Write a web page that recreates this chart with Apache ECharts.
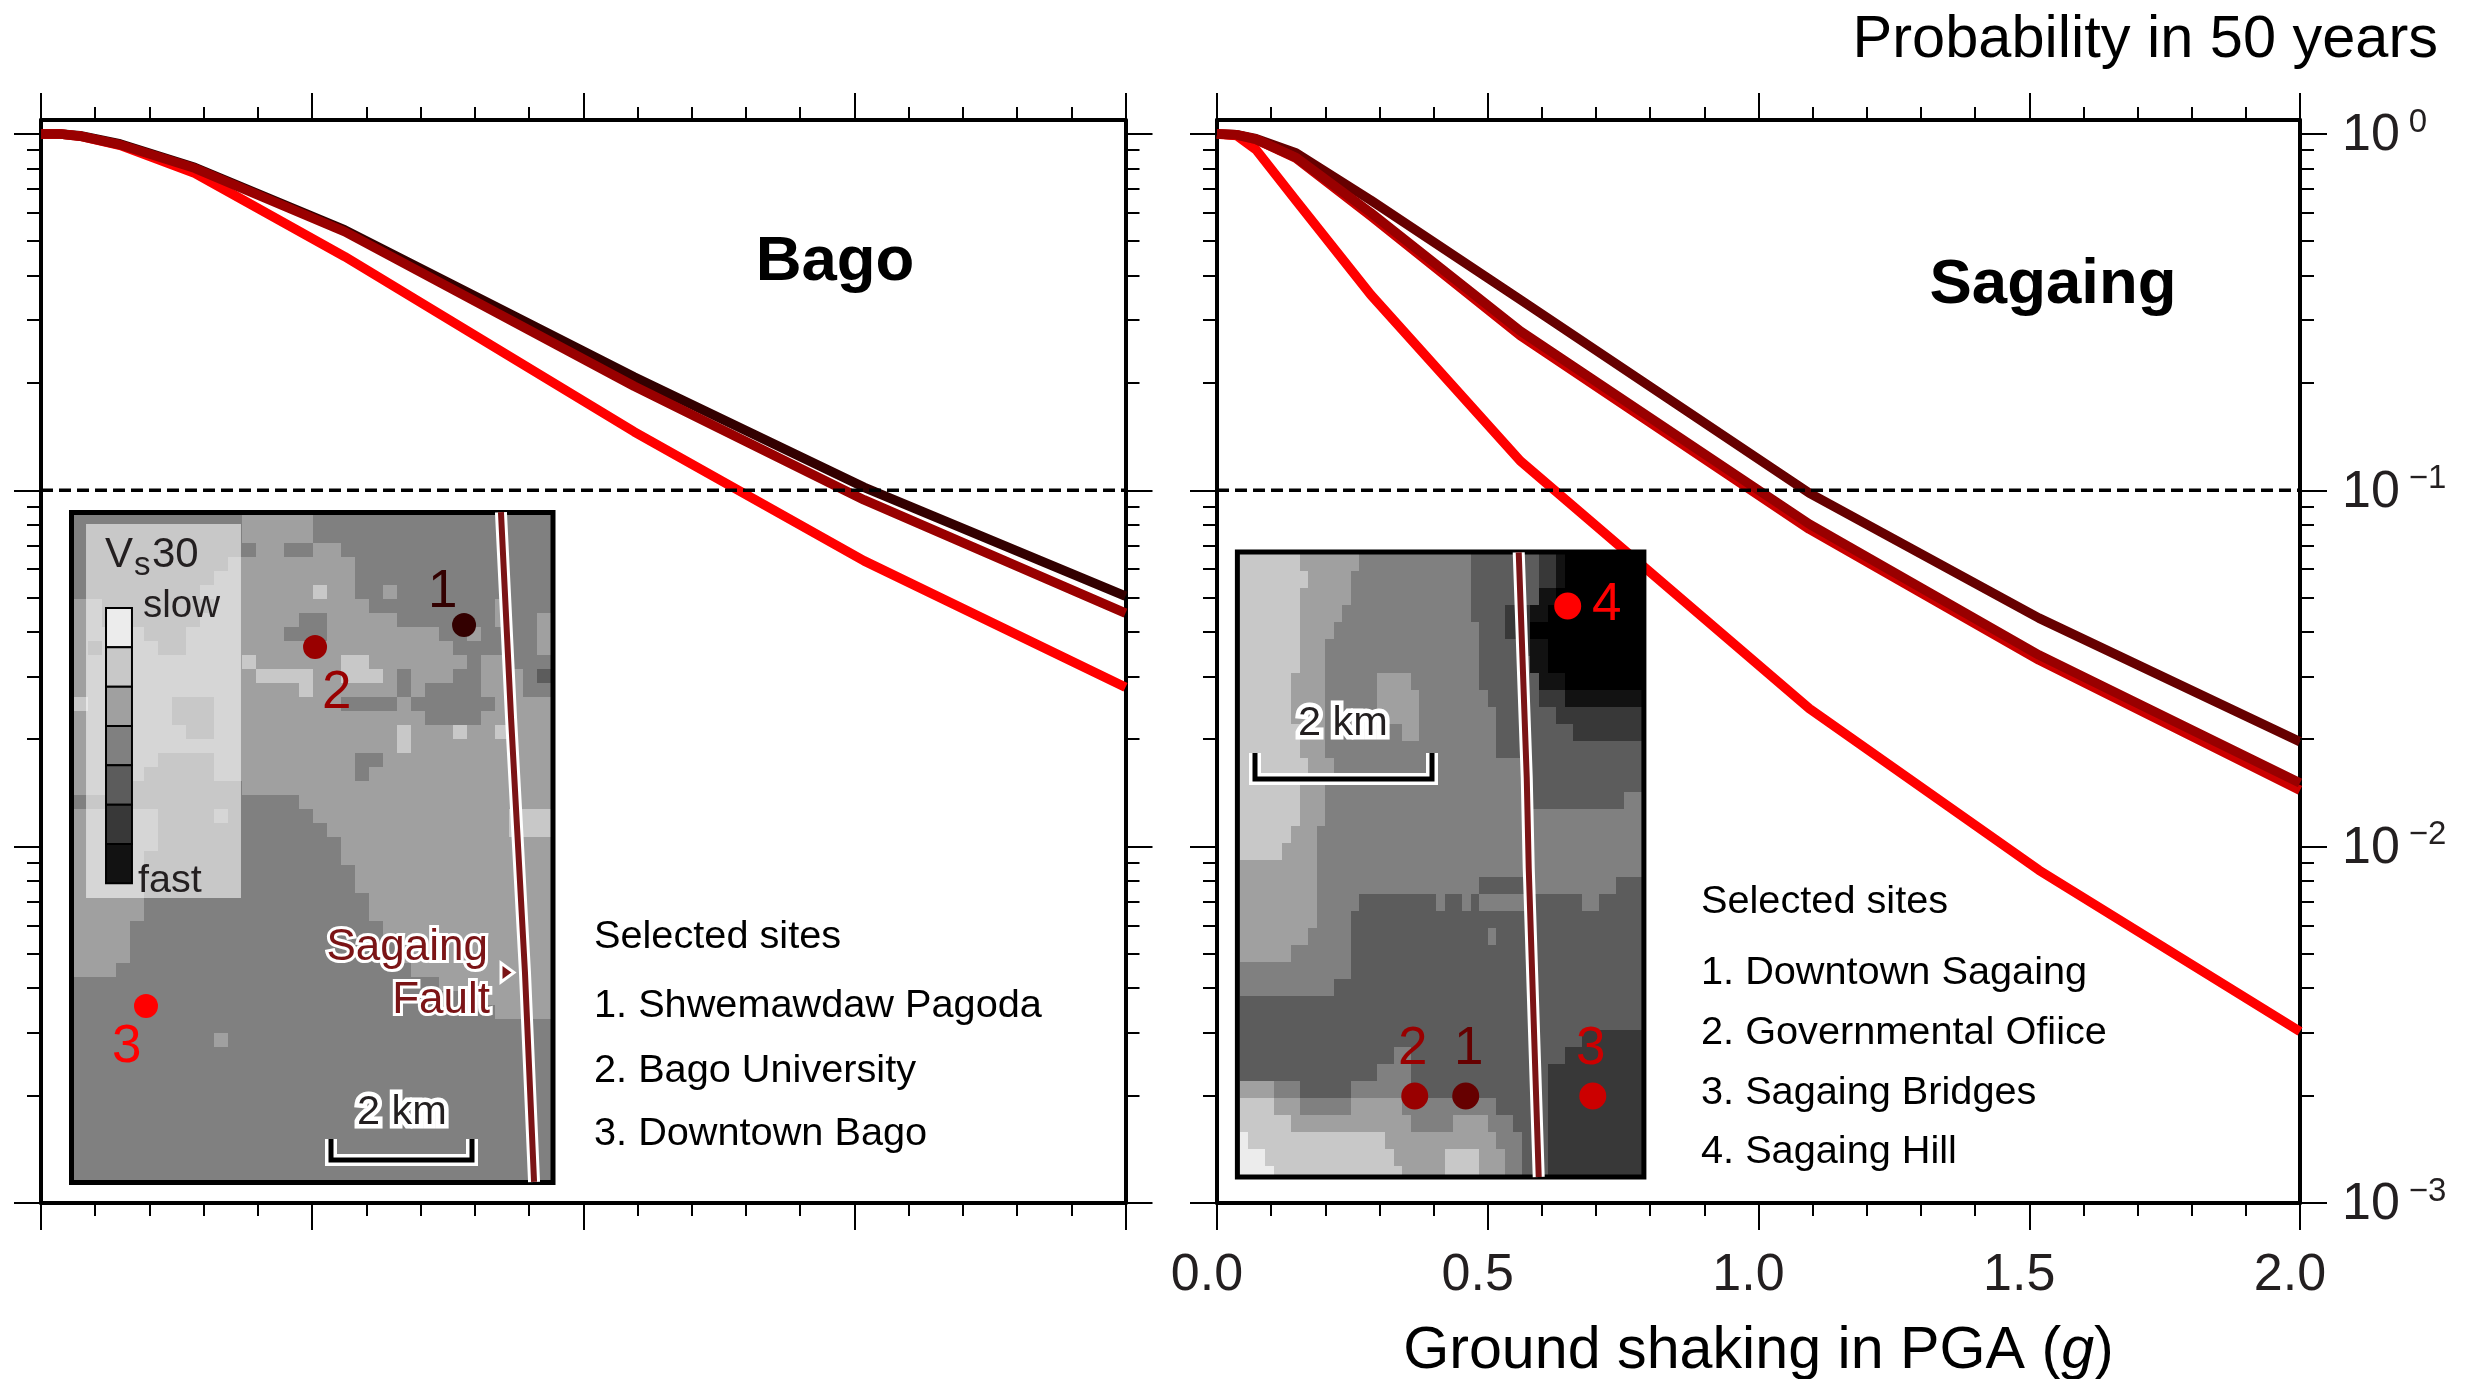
<!DOCTYPE html>
<html>
<head>
<meta charset="utf-8">
<style>html,body{margin:0;padding:0;background:#fff}#c{width:2472px;height:1379px}</style>
<script src="https://cdn.jsdelivr.net/npm/echarts@6/dist/echarts.min.js"></script>
</head>
<body>
<div id="c"></div>
<script>
// ---------- hazard curves ----------
const pga = [0, 0.036, 0.072, 0.146, 0.284, 0.56, 1.094, 1.518, 2.0];
const bagoSite1 = [1, 1, 0.989, 0.938, 0.805, 0.538, 0.208, 0.102, 0.0505];
const bagoSite2 = [1, 1, 0.986, 0.933, 0.801, 0.532, 0.196, 0.0940, 0.0452];
const bagoSite3 = [1, 1, 0.986, 0.929, 0.776, 0.453, 0.146, 0.0634, 0.0280];
const sagaingSite1 = [1, 0.995, 0.970, 0.885, 0.652, 0.343, 0.0982, 0.0438, 0.0197];
const sagaingSite2 = [1, 0.995, 0.966, 0.859, 0.601, 0.280, 0.0804, 0.0345, 0.0151];
const sagaingSite3 = [1, 0.995, 0.966, 0.855, 0.589, 0.272, 0.0778, 0.0334, 0.0144];
const sagaingSite4 = [1, 0.991, 0.904, 0.650, 0.354, 0.121, 0.0244, 0.00859, 0.00303];
const refProbability = [0.1, 0.1];
const refPga = [0, 2];
const yMajorTicks = [1, 0.1, 0.01, 0.001];
const yMinorTicks = [0.9,0.8,0.7,0.6,0.5,0.4,0.3,0.2,0.09,0.08,0.07,0.06,0.05,0.04,0.03,0.02,0.009,0.008,0.007,0.006,0.005,0.004,0.003,0.002];
const xTickLabels = ['0.0','0.5','1.0','1.5','2.0'];

// ---------- Vs30 maps: runs of level x count, one string per raster row ----------
const grayLevels = ['#ececec','#c8c8c8','#a0a0a0','#808080','#5c5c5c','#383838','#121212','#000000'];
const legendLevels = [0,1,2,3,4,5,6];
const bagoMap = [
"3x12 2x5 3x17","3x12 2x5 3x17","3x12 3x1 2x2 3x2 2x2 3x15",
"3x11 2x9 3x14","3x10 2x10 3x14","3x9 2x8 1x1 2x2 3x1 3x1 2x1 3x11",
"2x2 3x8 2x11 3x9 2x1 3x3","2x2 3x7 2x7 3x2 2x5 3x7 2x1 3x2 2x1",
"2x5 3x3 2x7 3x1 3x2 2x8 3x2 2x1 3x4 2x1","2x1 3x1 2x4 3x2 2x19 3x6 2x1",
"2x12 1x1 2x6 1x2 2x7 3x1 2x2 3x3","2x13 1x4 2x2 1x3 2x1 3x1 2x3 3x2 2x3 3x1 4x1",
"2x16 1x1 2x6 3x1 2x1 3x4 2x3 3x2","1x1 2x6 3x3 2x9 3x2 3x2 2x1 3x2 3x1 3x3 2x4",
"2x7 3x3 2x15 3x4 2x5","2x8 3x2 2x13 1x1 2x3 1x1 2x2 1x1 2x3","2x23 1x1 2x10",
"2x6 3x2 3x2 2x10 3x2 2x12","2x5 3x5 2x10 3x1 2x13","2x4 3x8 2x22","3x3 2x1 3x12 2x18",
"2x6 3x4 2x1 3x6 2x14 1x3","2x6 3x12 2x13 1x3","2x6 3x13 2x15","2x5 3x14 2x15",
"2x5 3x15 2x14","2x5 3x15 2x14","2x5 3x16 2x13","2x5 3x16 2x13","2x4 3x18 2x12",
"2x4 3x19 2x11","2x4 3x19 2x11","2x3 3x21 2x10","3x26 2x8","3x28 2x6","3x30 2x4",
"3x34","3x10 2x1 3x23","3x34","3x34","3x34","3x34","3x34","3x34","3x34","3x34","3x34","3x34"
];
const sagaingMap = [
"1x7 2x7 3x13 4x8 5x2 6x1 7x9","1x8 2x5 3x14 4x8 5x2 6x1 7x9","1x7 2x6 3x14 4x8 6x2 7x10",
"1x7 2x5 3x15 4x4 5x3 6x2 7x11","1x7 2x4 3x17 4x3 5x3 7x13","1x7 2x3 3x18 4x5 5x1 6x2 7x11",
"1x7 2x3 3x18 4x6 6x2 7x11","1x6 2x4 3x6 2x4 3x8 4x7 6x3 7x9","1x6 2x4 3x6 2x5 3x8 4x6 5x3 6x9",
"1x6 2x4 3x6 2x5 3x9 4x7 5x10","1x7 2x3 3x9 2x2 3x9 4x9 5x8","1x7 2x3 3x20 4x17",
"1x8 2x3 3x22 4x14","1x7 2x3 3x23 4x14","1x7 2x3 3x23 4x12 3x2","1x7 2x3 3x37","1x6 2x3 3x38",
"1x5 2x4 3x38","2x9 3x38","2x9 3x19 4x6 3x10 4x3","2x9 3x5 4x9 3x1 4x2 3x1 4x1 3x6 4x6 3x2 4x5",
"2x9 3x4 4x34","2x8 3x5 4x16 3x1 4x17","2x6 3x7 4x34","3x13 4x34","3x11 4x36","4x47","4x47",
"4x40 5x7","4x18 3x2 4x18 5x9","4x16 3x4 4x16 5x11","2x4 3x3 4x6 3x7 4x16 5x11",
"1x4 2x3 3x6 2x6 3x11 4x6 5x11","1x6 2x14 3x5 2x4 3x3 4x4 5x11",
"0x1 1x16 2x4 2x9 3x3 4x3 5x11","0x3 1x15 2x6 1x4 2x3 3x2 4x3 5x11","0x4 1x15 2x5 1x4 2x3 3x2 4x3 5x11"
];
const bagoFault = [[30.43,-0.2],[31.15,14.5],[32.14,32.64],[32.79,47.64]];
const sagaingFault = [[32.63,-0.1],[33.57,13.18],[33.8,18.47],[34.97,36.65]];
const bagoSites = [[27.8,7.86],[17.18,9.43],[5.13,35.07]];
const sagaingSites = [[26.43,31.88],[20.47,31.88],[41.29,31.88],[38.36,3.06]];

// ---------- texts ----------
const bagoList = ['Selected sites','1. Shwemawdaw Pagoda','2. Bago University','3. Downtown Bago'];
const sagaingList = ['Selected sites','1. Downtown Sagaing','2. Governmental Ofiice','3. Sagaing Bridges','4. Sagaing Hill'];

// ---------- drawing ----------
const FONT = '"Liberation Sans", Arial, sans-serif';
const INK = '#231f20';
const chart = echarts.init(document.getElementById('c'));

function runsToCells(rows){
  const out = [];
  rows.forEach((r,ri)=>{ let c=0; r.split(' ').forEach(t=>{ const [l,n]=t.split('x').map(Number); out.push([c,ri,c+n,l]); c+=n; }); });
  return out;
}
function mapSeries(rows,xi,yi){
  return {type:'custom',xAxisIndex:xi,yAxisIndex:yi,z:5,clip:true,silent:true,data:runsToCells(rows),
    renderItem:(p,api)=>{
      const a=api.coord([api.value(0),api.value(1)]),b=api.coord([api.value(2),api.value(1)+1]);
      const x0=Math.round(a[0]),y0=Math.round(a[1]),x1=Math.round(b[0]),y1=Math.round(b[1]);
      return {type:'rect',shape:{x:x0,y:y0,width:x1-x0,height:y1-y0},style:{fill:grayLevels[api.value(3)]}};
    }};
}
function frameSeries(xi,yi){
  return {type:'custom',xAxisIndex:xi,yAxisIndex:yi,z:6,clip:false,silent:true,data:[[0,0]],
    renderItem:(p)=>{const c=p.coordSys;return {type:'rect',shape:{x:c.x,y:c.y,width:c.width,height:c.height},style:{fill:'none',stroke:'#000',lineWidth:5}};}};
}
function faultSeries(pts,xi,yi){
  const base={type:'line',xAxisIndex:xi,yAxisIndex:yi,data:pts,symbol:'none',clip:false,silent:true,animation:false};
  return [Object.assign({},base,{z:7,lineStyle:{color:'#fff',width:12,cap:'butt',join:'round'}}),
          Object.assign({},base,{z:8,lineStyle:{color:'#7b1416',width:6,cap:'butt',join:'round'}})];
}
function siteSeries(pts,cols,size,xi,yi){
  return {type:'scatter',xAxisIndex:xi,yAxisIndex:yi,z:9,symbol:'circle',symbolSize:size,silent:true,clip:false,
    data:pts.map((p,i)=>({value:p,itemStyle:{color:cols[i],opacity:1}}))};
}
function curve(name,ys,color,xi,yi,z){
  return {name,type:'line',xAxisIndex:xi,yAxisIndex:yi,z,data:ys.map((y,i)=>[pga[i],y]),symbol:'none',clip:true,silent:true,
    lineStyle:{color,width:9.5,join:'round',cap:'butt'}};
}
function refLine(xi,yi){
  return {type:'line',xAxisIndex:xi,yAxisIndex:yi,z:3,data:refPga.map((x,i)=>[x,refProbability[i]]),symbol:'none',silent:true,
    lineStyle:{color:'#000',width:3.5,type:[12,6]}};
}
function minorTicks(xi,yi,side){
  return {type:'custom',xAxisIndex:xi,yAxisIndex:yi,z:4,clip:false,silent:true,data:yMinorTicks.map(v=>[0,v]),
    renderItem:(p,api)=>{
      const y=Math.round(api.coord([0,api.value(1)])[1]);const c=p.coordSys;
      const x=side<0?c.x:c.x+c.width;
      return {type:'line',shape:{x1:x,y1:y,x2:x+side*14,y2:y},style:{stroke:'#000',lineWidth:2}};
    }};
}
const legendBack={type:'custom',xAxisIndex:4,yAxisIndex:4,z:5.5,clip:false,silent:true,data:[[0.855,0.64,11.9,27.36]],
  renderItem:(p,api)=>{const a=api.coord([api.value(0),api.value(1)]),b=api.coord([api.value(2),api.value(3)]);
    return {type:'rect',shape:{x:a[0],y:a[1],width:b[0]-a[0],height:b[1]-a[1]},style:{fill:'rgba(255,255,255,0.565)'}};}};
const legendBar={type:'custom',xAxisIndex:4,yAxisIndex:4,z:5.6,clip:false,silent:true,data:legendLevels.map(l=>[2.28,l,4.13]),
  renderItem:(p,api)=>{const i=api.value(1),r0=6.64+i*2.81;
    const a=api.coord([api.value(0),r0]),b=api.coord([api.value(2),r0+2.81]);
    return {type:'rect',shape:{x:a[0],y:a[1],width:b[0]-a[0],height:b[1]-a[1]},style:{fill:grayLevels[i],stroke:'#000',lineWidth:2}};}};

function xAxisCfg(grid,pos,opts){
  return Object.assign({type:'value',gridIndex:grid,position:pos,min:0,max:2,interval:0.5,
    axisLine:{show:true,onZero:false,lineStyle:{color:'#000',width:4}},
    axisTick:{show:true,length:27,lineStyle:{color:'#000',width:2}},
    minorTick:{show:true,splitNumber:5,length:13,lineStyle:{color:'#000',width:2}},
    splitLine:{show:false},minorSplitLine:{show:false},axisLabel:{show:false}},opts||{});
}
function yAxisCfg(grid,pos,opts){
  return Object.assign({type:'log',logBase:10,gridIndex:grid,position:pos,min:0.001,max:1.0947,
    axisLine:{show:true,onZero:false,lineStyle:{color:'#000',width:4}},
    axisTick:{show:true,length:27,customValues:yMajorTicks,lineStyle:{color:'#000',width:2}},
    minorTick:{show:false},splitLine:{show:false},minorSplitLine:{show:false},
    axisLabel:{show:false,customValues:yMajorTicks}},opts||{});
}
const hidden=(grid,min,max,inv)=>({type:'value',gridIndex:grid,show:false,min,max,inverse:!!inv,splitLine:{show:false}});

function txt(str,x,base,size,fill,o){
  o=o||{};
  return {type:'text',z:100,silent:true,style:Object.assign({text:str,x,y:base+3-0.3465*size,fill,
    font:(o.weight?o.weight+' ':'')+size+'px '+FONT,textAlign:o.align||'left',textVerticalAlign:'middle'},
    o.halo?{stroke:'#fff',lineWidth:o.halo,strokeFirst:true,lineJoin:'round'}:{})};
}
function bracket(xl,xr,yt,yb){
  const pts=[[xl,yt],[xl,yb],[xr,yb],[xr,yt]];
  return [{type:'polyline',z:99,silent:true,shape:{points:pts},style:{fill:'none',stroke:'#fff',lineWidth:12,lineCap:'butt',lineJoin:'miter'}},
          {type:'polyline',z:100,silent:true,shape:{points:pts},style:{fill:'none',stroke:'#000',lineWidth:5,lineCap:'butt',lineJoin:'miter'}}];
}

const yLabelRich={
  b:{fontFamily:FONT,fontSize:52,color:INK,lineHeight:56,verticalAlign:'bottom'},
  s:{fontFamily:FONT,fontSize:33,color:INK,lineHeight:33,verticalAlign:'top',padding:[0,0,0,9]}
};
function yLabelFmt(v){
  const e=Math.round(Math.log10(v));
  return '{b|10}{s|'+(e===0?'0':'\u2212'+(-e))+'}';
}

const graphicEls=[
  txt('Probability in 50 years',2438,58,59.5,'#000',{align:'right'}),
  txt('Bago',835,281,63.5,'#000',{align:'center',weight:'bold'}),
  txt('Sagaing',2053,304,63.5,'#000',{align:'center',weight:'bold'}),
  // Bago inset annotations
  txt('V',105,566.7,42,INK), txt('s',134,574,33,INK), txt('30',152,566.7,42,INK),
  txt('slow',143,617,38.5,INK), txt('fast',138,892,39.5,INK),
  txt('1',428,608,53,'#330000'), txt('2',322,709,53,'#990000'), txt('3',112,1063,53,'#ff0000'),
  txt('Sagaing',488,960,44,'#7b1416',{align:'right',halo:6}),
  txt('Fault',490,1013,44,'#7b1416',{align:'right',halo:6}),
  {type:'polygon',z:100,silent:true,shape:{points:[[501,963],[501,982],[514,972.5]]},style:{fill:'#7b1416',stroke:'#fff',lineWidth:3}},
  txt('2 km',357,1124,41.5,INK,{halo:9}),
  ...bracket(331,472,1139,1160),
  // Sagaing inset annotations
  txt('2 km',1298,735,41.5,INK,{halo:9}),
  ...bracket(1255,1432,753,779),
  txt('1',1454,1065,53,'#660000'), txt('2',1398,1065,53,'#990000'),
  txt('3',1576,1065,53,'#cc0000'), txt('4',1592,621,53,'#ff0000')
];
const bagoBase=[947.5,1017,1081.5,1144.5];
bagoList.forEach((t,i)=>graphicEls.push(txt(t,594,bagoBase[i],39.7,'#000')));
const sagaingBase=[913,984,1044,1104,1163];
sagaingList.forEach((t,i)=>graphicEls.push(txt(t,1701,sagaingBase[i],39.7,'#000')));

const option={
  backgroundColor:'#fff',animation:false,
  grid:[
    {left:41,top:120,width:1084.5,height:1083,outerBoundsMode:'none'},
    {left:1217,top:120,width:1083,height:1083,outerBoundsMode:'none'},
    {left:71.5,top:512.5,width:481.5,height:670,outerBoundsMode:'none'},
    {left:1237.4,top:552,width:406.5,height:625,outerBoundsMode:'none'}
  ],
  xAxis:[
    xAxisCfg(0,'bottom'), xAxisCfg(0,'top'),
    xAxisCfg(1,'bottom',{
      axisLabel:{show:true,margin:46.5,padding:[0,20,0,0],fontFamily:FONT,fontSize:52,color:INK,
        formatter:v=>xTickLabels[Math.round(v/0.5)]},
      name:'Ground shaking in PGA ({i|g})',nameLocation:'middle',nameGap:119,
      nameTextStyle:{fontFamily:FONT,fontSize:59.2,color:'#000',
        rich:{i:{fontFamily:FONT,fontStyle:'italic',fontSize:59.2,color:'#000'}}}
    }),
    xAxisCfg(1,'top'),
    hidden(2,-0.18,34.14), hidden(3,-0.27,47.27)
  ],
  yAxis:[
    yAxisCfg(0,'left'), yAxisCfg(0,'right'),
    yAxisCfg(1,'left'),
    yAxisCfg(1,'right',{axisLabel:{show:true,customValues:yMajorTicks,margin:42,align:'left',formatter:yLabelFmt,rich:yLabelRich}}),
    hidden(2,-0.18,47.68,true), hidden(3,-0.12,36.65,true)
  ],
  series:[
    minorTicks(0,0,-1),minorTicks(0,1,1),minorTicks(2,2,-1),minorTicks(2,3,1),
    refLine(0,0),refLine(2,2),
    curve('Bago 1',bagoSite1,'#330000',0,0,2.1),
    curve('Bago 3',bagoSite3,'#ff0000',0,0,2.2),
    curve('Bago 2',bagoSite2,'#990000',0,0,2.3),
    curve('Sagaing 1',sagaingSite1,'#660000',2,2,2.1),
    curve('Sagaing 4',sagaingSite4,'#ff0000',2,2,2.2),
    curve('Sagaing 3',sagaingSite3,'#cc0000',2,2,2.3),
    curve('Sagaing 2',sagaingSite2,'#990000',2,2,2.4),
    mapSeries(bagoMap,4,4),legendBack,legendBar,frameSeries(4,4),...faultSeries(bagoFault,4,4),
    siteSeries(bagoSites,['#330000','#990000','#ff0000'],24,4,4),
    mapSeries(sagaingMap,5,5),frameSeries(5,5),...faultSeries(sagaingFault,5,5),
    siteSeries(sagaingSites,['#660000','#990000','#cc0000','#ff0000'],27,5,5)
  ],
  graphic:{elements:graphicEls}
};
chart.setOption(option);
</script>
</body>
</html>
